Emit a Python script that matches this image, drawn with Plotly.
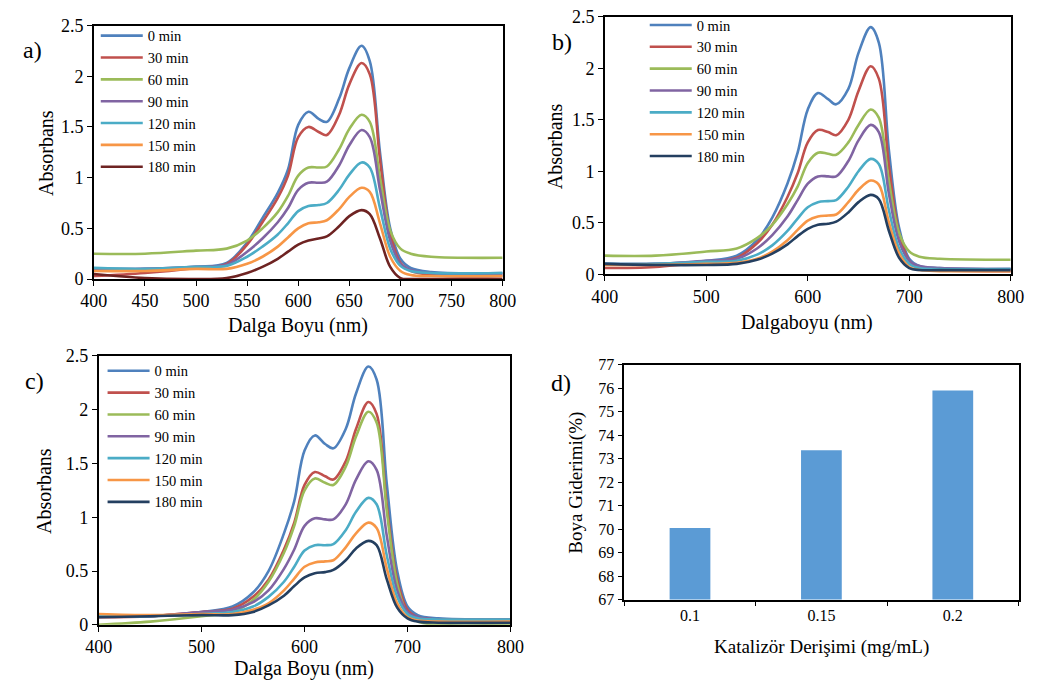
import plotly.graph_objects as go

# ---------------- data ----------------
wavelength = [400, 450, 500, 530, 550, 565, 580, 590, 600, 610, 620, 628,
              640, 650, 662, 670, 680, 690, 700, 710, 730, 800]
time_labels = ["0 min", "30 min", "60 min", "90 min", "120 min", "150 min", "180 min"]

# panel a
a_0 = [0.10, 0.10, 0.12, 0.16, 0.36, 0.60, 0.85, 1.08, 1.52, 1.65, 1.58, 1.55,
       1.78, 2.08, 2.30, 2.15, 1.25, 0.50, 0.20, 0.11, 0.07, 0.06]
a_30 = [0.03, 0.06, 0.11, 0.15, 0.34, 0.56, 0.80, 1.02, 1.40, 1.50, 1.45, 1.42,
        1.62, 1.92, 2.13, 2.02, 1.18, 0.45, 0.16, 0.08, 0.04, 0.03]
a_60 = [0.25, 0.25, 0.28, 0.30, 0.38, 0.50, 0.66, 0.82, 1.02, 1.10, 1.10, 1.11,
        1.28, 1.48, 1.62, 1.55, 1.00, 0.48, 0.30, 0.25, 0.22, 0.21]
a_90 = [0.10, 0.10, 0.12, 0.14, 0.27, 0.40, 0.56, 0.70, 0.88, 0.95, 0.95, 0.96,
        1.12, 1.32, 1.47, 1.40, 0.88, 0.38, 0.15, 0.09, 0.06, 0.05]
a_120 = [0.11, 0.10, 0.12, 0.13, 0.22, 0.32, 0.44, 0.55, 0.67, 0.72, 0.73, 0.75,
         0.88, 1.03, 1.15, 1.10, 0.70, 0.30, 0.13, 0.08, 0.06, 0.06]
a_150 = [0.08, 0.08, 0.10, 0.10, 0.15, 0.22, 0.32, 0.41, 0.50, 0.55, 0.56, 0.58,
         0.69, 0.81, 0.90, 0.86, 0.55, 0.22, 0.08, 0.04, 0.03, 0.03]
a_180 = [0.05, 0.01, 0.00, 0.01, 0.06, 0.12, 0.20, 0.27, 0.34, 0.38, 0.40, 0.42,
         0.52, 0.62, 0.68, 0.64, 0.40, 0.12, 0.01, 0.00, 0.00, 0.00]

# panel b
b_0 = [0.10, 0.10, 0.13, 0.18, 0.33, 0.55, 0.88, 1.18, 1.60, 1.76, 1.70, 1.65,
       1.80, 2.15, 2.40, 2.25, 1.20, 0.45, 0.15, 0.08, 0.06, 0.05]
b_30 = [0.06, 0.07, 0.12, 0.16, 0.30, 0.48, 0.75, 0.98, 1.28, 1.40, 1.38, 1.35,
        1.50, 1.78, 2.02, 1.90, 1.05, 0.40, 0.13, 0.06, 0.04, 0.03]
b_60 = [0.18, 0.18, 0.22, 0.25, 0.35, 0.48, 0.68, 0.85, 1.08, 1.18, 1.17, 1.16,
        1.28, 1.45, 1.60, 1.52, 0.90, 0.40, 0.22, 0.17, 0.15, 0.14]
b_90 = [0.10, 0.10, 0.13, 0.15, 0.25, 0.38, 0.56, 0.72, 0.88, 0.95, 0.95, 0.95,
        1.10, 1.30, 1.45, 1.38, 0.78, 0.32, 0.13, 0.08, 0.06, 0.05]
b_120 = [0.10, 0.10, 0.12, 0.13, 0.19, 0.28, 0.42, 0.54, 0.65, 0.70, 0.71, 0.72,
         0.85, 1.00, 1.12, 1.07, 0.62, 0.25, 0.10, 0.06, 0.05, 0.05]
b_150 = [0.09, 0.09, 0.10, 0.11, 0.15, 0.22, 0.33, 0.43, 0.52, 0.56, 0.57, 0.58,
         0.70, 0.82, 0.91, 0.87, 0.50, 0.20, 0.07, 0.04, 0.03, 0.03]
b_180 = [0.10, 0.09, 0.09, 0.10, 0.14, 0.20, 0.29, 0.37, 0.44, 0.48, 0.49, 0.51,
         0.60, 0.70, 0.77, 0.73, 0.42, 0.16, 0.06, 0.04, 0.04, 0.04]

# panel c
c_0 = [0.08, 0.08, 0.12, 0.17, 0.30, 0.50, 0.85, 1.15, 1.62, 1.76, 1.68, 1.64,
       1.82, 2.15, 2.40, 2.28, 1.30, 0.50, 0.17, 0.09, 0.06, 0.05]
c_30 = [0.07, 0.08, 0.12, 0.15, 0.26, 0.42, 0.70, 0.95, 1.30, 1.42, 1.38, 1.35,
        1.52, 1.82, 2.07, 1.96, 1.10, 0.42, 0.14, 0.07, 0.05, 0.05]
c_60 = [0.00, 0.03, 0.08, 0.12, 0.23, 0.40, 0.67, 0.92, 1.25, 1.36, 1.32, 1.30,
        1.47, 1.75, 1.98, 1.88, 1.05, 0.38, 0.10, 0.03, 0.00, 0.00]
c_90 = [0.08, 0.08, 0.12, 0.14, 0.21, 0.32, 0.52, 0.70, 0.92, 0.99, 0.98, 0.98,
        1.12, 1.35, 1.52, 1.44, 0.82, 0.32, 0.12, 0.07, 0.05, 0.05]
c_120 = [0.08, 0.08, 0.10, 0.12, 0.17, 0.26, 0.40, 0.54, 0.69, 0.74, 0.74, 0.75,
         0.88, 1.05, 1.18, 1.12, 0.64, 0.26, 0.10, 0.06, 0.05, 0.05]
c_150 = [0.10, 0.09, 0.10, 0.10, 0.14, 0.20, 0.32, 0.43, 0.54, 0.58, 0.59, 0.60,
         0.72, 0.85, 0.95, 0.90, 0.52, 0.20, 0.07, 0.04, 0.03, 0.03]
c_180 = [0.07, 0.08, 0.09, 0.09, 0.12, 0.18, 0.27, 0.36, 0.44, 0.48, 0.49, 0.51,
         0.60, 0.71, 0.78, 0.74, 0.42, 0.16, 0.06, 0.03, 0.02, 0.02]

# panel d
catalyst = ["0.1", "0.15", "0.2"]
dye_removal = [70.05, 73.35, 75.9]

# ---------------- style ----------------
FONT = "Liberation Serif"
colors_a = ["#4F81BD", "#C0504D", "#9BBB59", "#8064A2", "#4BACC6", "#F79646", "#6E2322"]
colors_bc = ["#4F81BD", "#C0504D", "#9BBB59", "#8064A2", "#4BACC6", "#F79646", "#243F60"]

W, H = 1051, 697

def px_x(l, r):
    return [l / W, r / W]

def px_y(top, bottom):
    return [(H - bottom) / H, (H - top) / H]

fig = go.Figure()

panels = [
    ("x", "y", "legend", [a_0, a_30, a_60, a_90, a_120, a_150, a_180], colors_a),
    ("x2", "y2", "legend2", [b_0, b_30, b_60, b_90, b_120, b_150, b_180], colors_bc),
    ("x3", "y3", "legend3", [c_0, c_30, c_60, c_90, c_120, c_150, c_180], colors_bc),
]
for xa, ya, lg, series, cols in panels:
    for name, vals, col in zip(time_labels, series, cols):
        fig.add_trace(go.Scatter(
            x=wavelength, y=vals, name=name, mode="lines",
            line=dict(color=col, width=2.6, shape="spline", smoothing=1.0),
            xaxis=xa, yaxis=ya, legend=lg, hoverinfo="skip"))

fig.add_trace(go.Bar(x=catalyst, y=dye_removal, marker=dict(color="#5B9BD5", line=dict(width=0)),
                     xaxis="x4", yaxis="y4", showlegend=False))

axis_common = dict(showline=True, linecolor="black", linewidth=1.5, mirror=True,
                   ticks="outside", ticklen=5, tickcolor="black", tickwidth=1.2,
                   showgrid=False, zeroline=False,
                   tickfont=dict(family=FONT, size=18, color="black"))

leg_common = dict(bgcolor="rgba(0,0,0,0)", font=dict(family=FONT, size=14.5, color="black"),
                  xanchor="left", yanchor="top", itemwidth=42, tracegroupgap=0)

fig.update_layout(
    width=W, height=H, margin=dict(l=0, r=0, t=0, b=0),
    paper_bgcolor="white", plot_bgcolor="white",
    font=dict(family=FONT, color="black"),
    bargap=0.69,
    xaxis=dict(domain=px_x(82, 502), anchor="y", range=[400, 800], dtick=50, **axis_common),
    yaxis=dict(domain=px_y(16, 277), anchor="x", range=[0, 2.5], dtick=0.5, **axis_common),
    xaxis2=dict(domain=px_x(607, 1024), anchor="y2", range=[400, 800], dtick=100, **axis_common),
    yaxis2=dict(domain=px_y(7, 272), anchor="x2", range=[0, 2.5], dtick=0.5, **axis_common),
    xaxis3=dict(domain=px_x(87, 510), anchor="y3", range=[400, 800], dtick=100, **axis_common),
    yaxis3=dict(domain=px_y(356, 633), anchor="x3", range=[0, 2.5], dtick=0.5, **axis_common),
    xaxis4=dict(domain=px_x(627, 1032), anchor="y4", type="category", tickson="boundaries",
                **{**axis_common, "tickfont": dict(family=FONT, size=16, color="black")}),
    yaxis4=dict(domain=px_y(365, 607), anchor="x4", range=[67, 77], dtick=1,
                **{**axis_common, "tickfont": dict(family=FONT, size=16, color="black")}),
    legend=dict(x=84 / W, y=(H - 10) / H, **leg_common),
    legend2=dict(x=648 / W, y=(H + 1) / H, **leg_common),
    legend3=dict(x=91 / W, y=(H - 355) / H, **leg_common),
)

def ann(text, x, y, size=20, angle=0):
    fig.add_annotation(text=text, x=x / W, y=(H - y) / H, xref="paper", yref="paper",
                       showarrow=False, textangle=angle, xanchor="center", yanchor="middle",
                       font=dict(family=FONT, size=size, color="black"))

# axis titles
ann("Dalga Boyu (nm)", 292, 325)
ann("Dalgaboyu (nm)", 815, 322)
ann("Dalga Boyu (nm)", 298, 678)
ann("Katalizör Derişimi (mg/mL)", 830, 656, size=19)
ann("Absorbans", 33, 147, angle=-90)
ann("Absorbans", 556, 140, angle=-90)
ann("Absorbans", 31, 495, angle=-90)
ann("Boya Giderimi(%)", 577, 487, size=19, angle=-90)

# panel labels
ann("a)", 19, 41, size=24)
ann("b)", 563, 33, size=24)
ann("c)", 21, 382, size=24)
ann("d)", 562, 384, size=24)

fig.write_html("out.html")
